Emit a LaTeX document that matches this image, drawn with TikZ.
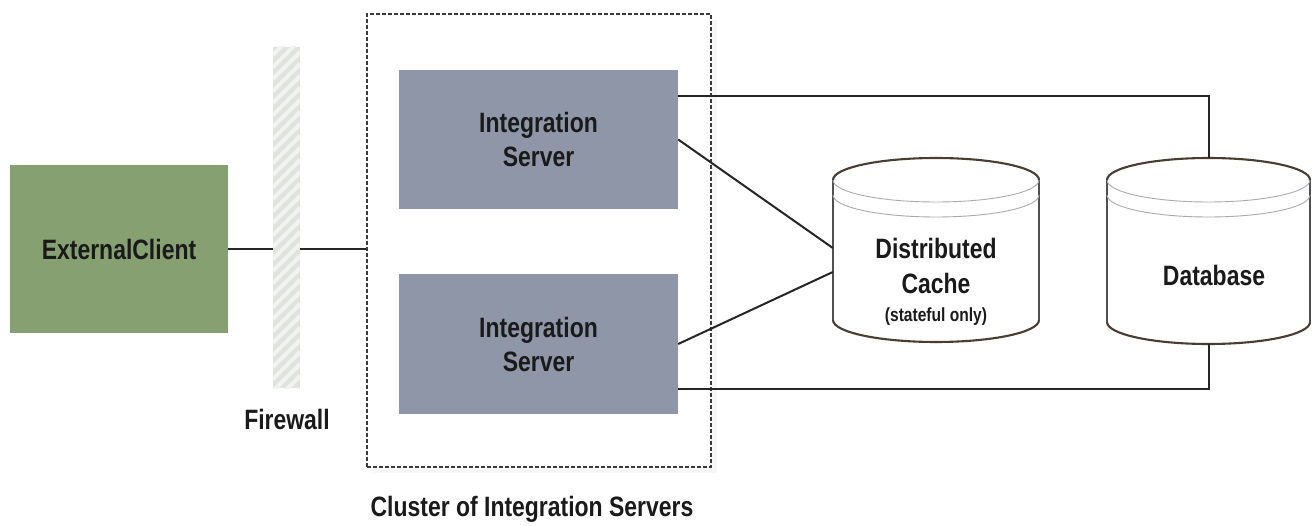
\documentclass[tikz,border=0pt]{standalone}
\usepackage{fontspec}
\setmainfont{Liberation Sans}[FakeStretch=0.82]
\usetikzlibrary{shadows}
\definecolor{clientgreen}{HTML}{87A072}
\definecolor{servergray}{HTML}{8E96A8}
\definecolor{fwbase}{HTML}{E0E3DC}
\definecolor{fwstripe}{HTML}{F2F3F0}
\definecolor{cylrim}{HTML}{4A3C30}
\definecolor{cylside}{HTML}{505050}
\definecolor{cylinner}{HTML}{ABABAB}
\definecolor{txt}{HTML}{1A1A1A}
\definecolor{dashgray}{HTML}{3A3A3A}
\newcommand\drawcyl[5]{%
 \fill[white] ({#1-#4},#2) -- ({#1-#4},#3) arc[start angle=180,end angle=360,x radius=#4,y radius=#5] -- ({#1+#4},#2) arc[start angle=0,end angle=180,x radius=#4,y radius=#5] -- cycle;
 \draw[cylside, line width=1.6] ({#1-#4},#2) -- ({#1-#4},#3) ({#1+#4},#2) -- ({#1+#4},#3);
 \draw[cylrim, line width=2.1] ({#1-#4},#3) arc[start angle=180,end angle=360,x radius=#4,y radius=#5];
 \draw[cylrim, line width=2.1] ({#1+#4},#2) arc[start angle=0,end angle=180,x radius=#4,y radius=#5];
 \draw[cylinner, line width=0.9] ({#1-#4},#2) arc[start angle=180,end angle=360,x radius=#4,y radius=#5];
 \draw[cylinner, line width=0.9] ({#1-#4},{#2-15}) arc[start angle=180,end angle=360,x radius=#4,y radius=#5];
}
\begin{document}
\begin{tikzpicture}[x=1pt,y=1pt,
  lbl/.style={font=\bfseries\fontsize{28}{34}\selectfont, text=txt, align=center},
  serverbox/.style={lbl, fill=servergray, minimum width=279, minimum height=139, inner sep=0},
  conn/.style={draw=black!85, line width=2},
  anchorbox/.style={inner sep=0, draw=none}]
\useasboundingbox (0,0) rectangle (1313,525);
\fill[white] (0,0) rectangle (1313,525);

% cluster
\node[anchorbox, draw=dashgray, dash pattern=on 4pt off 2pt, line width=1.8,
      minimum width=344, minimum height=453, fill=white,
      drop shadow={opacity=0.07, shadow xshift=6pt, shadow yshift=-6pt}] (cluster) at (539,284.5) {};
\node[lbl] (clusterlabel) at (532,16) {Cluster of Integration Servers};

% servers
\node[serverbox] (s1) at (538.5,385.5) {Integration\\Server};
\node[serverbox] (s2) at (538.5,181) {Integration\\Server};

% client
\node[lbl, fill=clientgreen, minimum width=218, minimum height=168, inner sep=0] (client) at (119,276) {ExternalClient};

% firewall
\node[anchorbox, fill=fwbase, minimum width=27, minimum height=341] (fw) at (286.5,307.5) {};
\begin{scope}
  \clip (fw.south west) rectangle (fw.north east);
  \foreach \k in {0,...,32} \draw[fwstripe, line width=4] (273,{110+\k*12}) -- ++(27,27);
\end{scope}
\node[lbl] (fwlabel) at (287,106) {Firewall};

% cylinders
\node[anchorbox, minimum width=206, minimum height=184] (cache) at (936,275) {};
\drawcyl{936}{345}{205}{103}{22}
\node[lbl, font=\bfseries\fontsize{28}{35}\selectfont] (cachetxt) at (936,243)
  {Distributed\\Cache\\[-7pt]{\fontsize{19}{22}\selectfont (stateful only)}};

\node[anchorbox, minimum width=203, minimum height=186] (db) at (1208.5,274) {};
\drawcyl{1208.5}{345}{203}{101.5}{22}
\node[lbl] (dbtxt) at (1214,250) {Database};

% connectors
\draw[conn] (client.east) -- (client.east -| fw.west);
\draw[conn] (client.east -| fw.east) -- (client.east -| cluster.west);
\draw[conn] ([yshift=43.5]s1.east) -| (db.north);
\draw[conn] ([yshift=-45]s2.east) -| (db.south);
\draw[conn] (s1.east) -- ([yshift=2]cache.west);
\draw[conn] (s2.east) -- ([yshift=-22]cache.west);
\end{tikzpicture}
\end{document}
